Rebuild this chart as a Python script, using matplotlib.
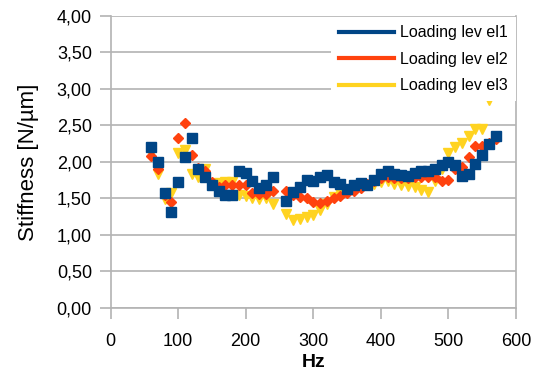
import matplotlib.pyplot as plt
import numpy as np
from matplotlib.lines import Line2D
from matplotlib.ticker import FuncFormatter

# частоты, Гц (на 250 Гц измерения нет)
hz = list(range(60, 580, 10))

# жёсткость, Н/мкм
level1 = [2.21, 2.00, 1.58, 1.31, 1.73, 2.07, 2.33, 1.91, 1.79, 1.68,
          1.60, 1.55, 1.55, 1.88, 1.85, 1.74, 1.65, 1.68, 1.80, np.nan,
          1.47, 1.59, 1.66, 1.76, 1.74, 1.80, 1.82, 1.72, 1.70, 1.63,
          1.68, 1.71, 1.68, 1.76, 1.84, 1.88, 1.84, 1.82, 1.81, 1.85,
          1.87, 1.88, 1.91, 1.96, 2.00, 1.96, 1.81, 1.84, 1.97, 2.10,
          2.24, 2.36]
level2 = [2.08, 1.90, 1.55, 1.45, 2.33, 2.53, 2.10, 1.92, 1.88, 1.72,
          1.66, 1.68, 1.69, 1.69, 1.68, 1.58, 1.56, 1.56, 1.60, np.nan,
          1.60, 1.55, 1.52, 1.50, 1.45, 1.44, 1.46, 1.50, 1.54, 1.57,
          1.60, 1.64, 1.70, 1.74, 1.78, 1.79, 1.78, 1.78, 1.78, 1.79,
          1.79, 1.79, 1.80, 1.74, 1.75, 1.91, 1.93, 2.07, 2.22, 2.22,
          2.26, 2.32]
level3 = [2.12, 1.84, 1.49, 1.58, 2.12, 2.16, 1.83, 1.79, 1.90, 1.70,
          1.71, 1.72, 1.72, 1.55, 1.54, 1.50, 1.49, 1.50, 1.42, np.nan,
          1.29, 1.21, 1.22, 1.25, 1.27, 1.34, 1.43, 1.52, 1.57, 1.59,
          1.63, 1.68, 1.69, 1.70, 1.73, 1.74, 1.70, 1.68, 1.67, 1.66,
          1.62, 1.59, 1.74, 1.90, 2.12, 2.20, 2.26, 2.36, 2.45, 2.45,
          2.85, np.nan]

labels = ["Loading lev el1", "Loading lev el2", "Loading lev el3"]
colors = ["#004586", "#ff420e", "#ffd320"]
y_ticks = [0, 0.5, 1, 1.5, 2, 2.5, 3, 3.5, 4]
x_ticks = [0, 100, 200, 300, 400, 500, 600]


def main() -> None:
    """Точечный график жёсткости по частоте для трёх уровней нагрузки."""
    plt.rcParams['font.family'] = ['Liberation Sans', 'DejaVu Sans']
    fig = plt.figure(figsize=(5.39, 3.70), dpi=100)
    ax = fig.add_axes([0.2054, 0.1676, 0.7516, 0.7892])

    grey = "#b3b3b3"
    # жёлтые снизу, синие сверху - как в оригинале
    ax.plot(hz, level3, linestyle="none", marker="v", markersize=7.5,
            color=colors[2], zorder=3)
    ax.plot(hz, level2, linestyle="none", marker="D", markersize=5.5,
            color=colors[1], zorder=4)
    ax.plot(hz, level1, linestyle="none", marker="s", markersize=6.5,
            color=colors[0], zorder=5)

    ax.set_xlim(0, 600)
    ax.set_ylim(0, 4)
    ax.set_xticks(x_ticks)
    ax.set_yticks(y_ticks)
    ax.yaxis.set_major_formatter(FuncFormatter(lambda v, p: f"{v:.2f}".replace(".", ",")))
    ax.grid(axis="y", color=grey, linewidth=1.2)
    ax.set_axisbelow(True)
    for side in ["left", "bottom", "right"]:
        ax.spines[side].set_color(grey)
        ax.spines[side].set_linewidth(1.2)
    ax.spines["top"].set_visible(False)
    ax.tick_params(axis="both", colors=grey, length=8, width=1.2,
                   labelsize=13, labelcolor="black")
    ax.tick_params(axis="x", pad=10)
    ax.tick_params(axis="y", pad=5.5)

    ax.set_xlabel("Hz", fontsize=14, fontweight="bold", labelpad=3)
    ax.set_ylabel("Stiffness [N/µm]", fontsize=16, labelpad=13)

    # легенда без рамки, белый фон перекрывает сетку
    handles = [Line2D([], [], color=c, linewidth=3) for c in colors]
    leg = ax.legend(handles, labels, loc="upper right",
                    bbox_to_anchor=(1.0, 0.996), fontsize=11.5,
                    frameon=True, fancybox=False, framealpha=1,
                    handlelength=3.4, handletextpad=0.4,
                    labelspacing=0.72, borderpad=0.5, borderaxespad=0)
    leg.get_frame().set_edgecolor("none")
    leg.get_frame().set_facecolor("white")
    leg.set_zorder(10)

    plt.savefig("out.png", dpi=100)


if __name__ == '__main__':
    main()
